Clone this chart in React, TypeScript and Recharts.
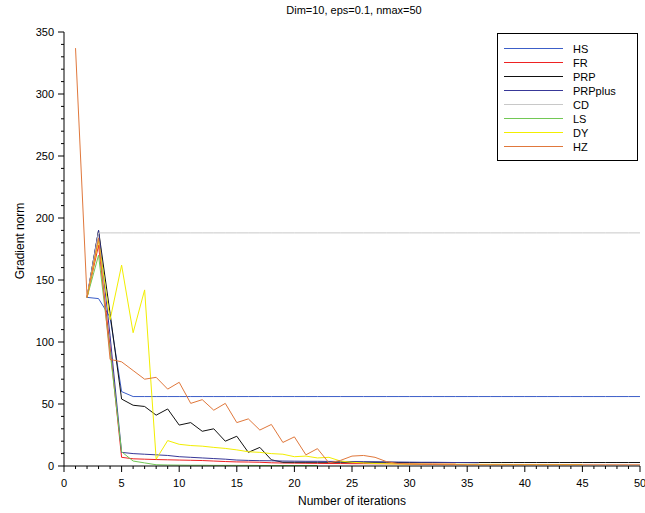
import { LineChart, Line, XAxis, YAxis, Label } from "recharts";

// iteration index 1..50
const iterations = [
  1, 2, 3, 4, 5, 6, 7, 8, 9, 10, 11, 12, 13, 14, 15, 16, 17, 18, 19, 20,
  21, 22, 23, 24, 25, 26, 27, 28, 29, 30, 31, 32, 33, 34, 35, 36, 37, 38, 39, 40,
  41, 42, 43, 44, 45, 46, 47, 48, 49, 50,
];

// gradient norm per method (null = not drawn / run stopped)
const hs = [
  null, 136, 135, 120, 60, 56, 56, 56, 56, 56, 56, 56, 56, 56, 56, 56, 56, 56, 56, 56,
  56, 56, 56, 56, 56, 56, 56, 56, 56, 56, 56, 56, 56, 56, 56, 56, 56, 56, 56, 56,
  56, 56, 56, 56, 56, 56, 56, 56, 56, 56,
];
const fr = [
  null, 136, 178, 96, 7, 5.8, 5.5, 5.2, 5, 4.8, 4.6, 4.4, 4, 3.6, 3.3, 3.2, 3, 2.6, 2.4, 2.3,
  2.2, 2.1, 2, 2, 1.9, 1.9, 1.8, 1.8, 1.7, 1.7, 1.6, 1.6, 1.5, 1.5,
];
const prp = [
  null, 136, 190, 123, 54, 49, 48, 41, 46, 33, 35, 28, 30, 20, 24, 11, 15, 5, 3, 3,
  3, 3, 3, 3, 3, 3, 3, 3, 2.8, 2.8, 2.8, 2.8, 2.8, 2.8, 2.8, 2.8, 2.8, 2.8, 2.8, 2.8,
  2.8, 2.8, 2.8, 2.8, 2.8, 2.8, 2.8, 2.8, 2.8, 2.8,
];
const prpPlus = [
  null, 136, 190, 105, 11, 10, 9.5, 9, 8.5, 7.5, 7, 6.5, 6, 5.5, 4.8, 4.5, 4.3, 4.2, 4, 3.9,
  3.8, 3.8, 3.7, 3.7, 3.6, 3.5, 3.4, 3.3, 3.2, 3.1, 3, 3, 2.9, 2.8, 2.7, 2.6,
];
const cd = [
  null, 136, 188, 188, 188, 188, 188, 188, 188, 188, 188, 188, 188, 188, 188, 188, 188, 188, 188, 188,
  188, 188, 188, 188, 188, 188, 188, 188, 188, 188, 188, 188, 188, 188, 188, 188, 188, 188, 188, 188,
  188, 188, 188, 188, 188, 188, 188, 188, 188, 188,
];
const ls = [
  null, 136, 170, 92, 11.5, 4, 2.5, 1, 0.8, 0.7, 0.6, 0.6, 0.5, 0.5, 0.5, 0.5, 0.4, 0.4, 0.4, 0.4,
  0.4, 0.4,
];
const dy = [
  null, 136, 182, 118, 162, 107.5, 142, 5.5, 20.5, 17.5, 16.5, 16, 15, 14.2, 13, 11.5, 11, 10, 9.5, 7.5,
  8, 6.5, 7, 4, 3, 2.5, 2, 1.8, 1.6, 1.5, 1.5, 1.4, 1.4, 1.4, 1.3, 1.3, 1.3, 1.3, 1.2, 1.2,
  1.2, 1.2, 1.2, 1.2, 1.2,
];
const hz = [
  337, 136, 184, 86, 84, 77, 70, 71.5, 62, 67.5, 50.5, 53.5, 45, 50.5, 35, 38, 29, 33.5, 19, 23.5,
  9, 14, 2.5, 4.5, 8, 8.5, 7, 3.5, 2, 1.5, 1.3, 1.2, 1.1, 1.1, 1, 1, 1, 1, 1, 1,
  1, 1, 1, 1, 1, 1, 1, 1, 1, 1,
];

const series = [
  { key: "HS", values: hs, color: "#3c5ec8" },
  { key: "FR", values: fr, color: "#ee2222" },
  { key: "PRP", values: prp, color: "#111111" },
  { key: "PRPplus", values: prpPlus, color: "#383898" },
  { key: "CD", values: cd, color: "#c8c8c8" },
  { key: "LS", values: ls, color: "#72c855" },
  { key: "DY", values: dy, color: "#f2ee00" },
  { key: "HZ", values: hz, color: "#e0783c" },
];

const xTicks = [...Array(51).keys()];
const yTicks = [...Array(36).keys()].map((i) => i * 10);

const data = iterations.map((it, i) => {
  const row: Record<string, number | null> = { it };
  series.forEach((s) => {
    row[s.key] = s.values[i] ?? null;
  });
  return row;
});

const FONT = '"Liberation Sans", Arial, sans-serif';

function XTick({ x, y, payload }: any) {
  const major = payload.value % 5 === 0;
  return (
    <g>
      <line x1={x} x2={x} y1={y} y2={y + (major ? 6 : 3)} stroke="#000" />
      {major && (
        <text x={x} y={y + 21} textAnchor="middle" fontSize={11} fontFamily={FONT} fill="#000">
          {payload.value}
        </text>
      )}
    </g>
  );
}

function YTick({ x, y, payload }: any) {
  const major = payload.value % 50 === 0;
  return (
    <g>
      <line x1={x} x2={x - (major ? 6 : 3)} y1={y} y2={y} stroke="#000" />
      {major && (
        <text x={x - 10} y={y + 4} textAnchor="end" fontSize={11} fontFamily={FONT} fill="#000">
          {payload.value}
        </text>
      )}
    </g>
  );
}

function LegendBox() {
  return (
    <svg
      width={141}
      height={128}
      style={{ position: "absolute", left: 497, top: 33, display: "block" }}
    >
      <rect x={0.5} y={0.5} width={140} height={127} fill="#fff" stroke="#000" />
      {series.map((s, i) => {
        const y = 15.5 + i * 14;
        return (
          <g key={s.key}>
            <line x1={7} x2={66} y1={y} y2={y} stroke={s.color} strokeWidth={1} />
            <text x={76} y={y + 4} fontSize={11} fontFamily={FONT} fill="#000">
              {s.key}
            </text>
          </g>
        );
      })}
    </svg>
  );
}

export default function App() {
  return (
    <div style={{ position: "absolute", left: 0, top: 0, width: 645, height: 513, background: "#fff" }}>
      <div
        style={{
          position: "absolute",
          left: 0,
          top: 4,
          width: 708,
          textAlign: "center",
          fontFamily: FONT,
          fontSize: 11,
          color: "#000",
        }}
      >
        Dim=10, eps=0.1, nmax=50
      </div>
      <LineChart width={645} height={513} data={data} margin={{ top: 32, right: 5, bottom: 0, left: 14 }}>
        <XAxis
          dataKey="it"
          type="number"
          domain={[0, 50]}
          ticks={xTicks}
          interval={0}
          tickSize={0}
          tickMargin={0}
          tickLine={false}
          tick={<XTick />}
          axisLine={{ stroke: "#000" }}
          height={47}
        >
          <Label
            content={(p: any) => {
              const vb = p.viewBox;
              return (
                <text
                  x={vb.x + vb.width / 2}
                  y={vb.y + 39}
                  textAnchor="middle"
                  fontSize={12}
                  fontFamily={FONT}
                  fill="#000"
                >
                  Number of iterations
                </text>
              );
            }}
          />
        </XAxis>
        <YAxis
          type="number"
          domain={[0, 350]}
          ticks={yTicks}
          interval={0}
          tickSize={0}
          tickMargin={0}
          tickLine={false}
          tick={<YTick />}
          axisLine={{ stroke: "#000" }}
          width={50}
        >
          <Label
            content={(p: any) => {
              const vb = p.viewBox;
              const cx = vb.x + 6;
              const cy = vb.y + vb.height / 2 - 8;
              return (
                <text
                  x={cx}
                  y={cy}
                  transform={`rotate(-90 ${cx} ${cy})`}
                  textAnchor="middle"
                  dominantBaseline="central"
                  fontSize={12}
                  fontFamily={FONT}
                  fill="#000"
                >
                  Gradient norm
                </text>
              );
            }}
          />
        </YAxis>
        {series.map((s) => (
          <Line
            key={s.key}
            type="linear"
            dataKey={s.key}
            stroke={s.color}
            strokeWidth={1}
            dot={false}
            activeDot={false}
            connectNulls={false}
            isAnimationActive={false}
          />
        ))}
      </LineChart>
      <LegendBox />
    </div>
  );
}
